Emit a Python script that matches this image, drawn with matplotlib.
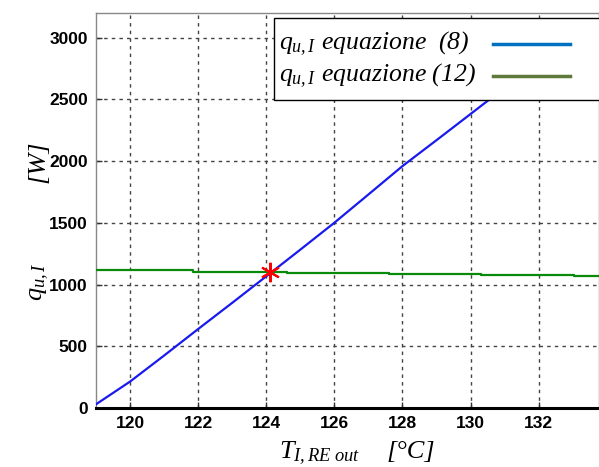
import matplotlib
matplotlib.use("Agg")
import matplotlib.pyplot as plt
from matplotlib.patches import Rectangle
from matplotlib.lines import Line2D

plt.rcParams["mathtext.fontset"] = "custom"
plt.rcParams["mathtext.it"] = "Liberation Serif:italic"
plt.rcParams["mathtext.rm"] = "Liberation Serif:italic"

# q_u,I from equation (8): rises with the outlet temperature
temp_eq8 = [119.0, 120.0, 121.0, 122.0, 123.0, 124.0, 125.0, 126.0, 127.0,
            128.0, 129.0, 130.0, 131.0, 132.0, 133.0]
q_eq8 = [30, 214, 425, 640, 852, 1067, 1283, 1501, 1730,
         1960, 2170, 2382, 2595, 2808, 3020]

# q_u,I from equation (12): nearly flat, stepping down slowly
temp_eq12 = [119.0, 121.85, 124.6, 127.6, 130.3, 133.05, 133.8]
q_eq12 = [1120, 1105, 1095, 1088, 1078, 1068, 1068]

# operating point where the two curves meet
t_cross = 124.12
q_cross = 1098

x_ticks = [120, 122, 124, 126, 128, 130, 132]
y_ticks = [0, 500, 1000, 1500, 2000, 2500, 3000]

legend_labels = [r"$q_{u,I}$ equazione  (8)", r"$q_{u,I}$ equazione (12)"]
legend_colors = ["#0070c0", "#5e7a3a"]

W, H = 599, 467
fig = plt.figure(figsize=(W / 100, H / 100), dpi=100)
ax = fig.add_axes([96 / W, 59 / H, 503 / W, 395 / H])

ax.plot(temp_eq8, q_eq8, color="#1a1aee", lw=1.6, zorder=3)
ax.plot(temp_eq12, q_eq12, color="#0a8a0a", lw=1.6, drawstyle="steps-post", zorder=3)
ax.plot([t_cross], [q_cross], marker=(6, 2, 0), color="red", ms=14, mew=1.5,
        linestyle="none", zorder=4)

ax.set_xlim(119.0, 133.77)
ax.set_ylim(0, 3200)
ax.set_xticks(x_ticks)
ax.set_yticks(y_ticks)
ax.grid(True, color="#444444", linestyle=(0, (2.5, 3)), lw=1.0)
ax.tick_params(direction="in", length=4, width=1, color="#333333", pad=6)
for lab in ax.get_xticklabels() + ax.get_yticklabels():
    lab.set_fontfamily("Liberation Sans")
    lab.set_fontweight("bold")
    lab.set_fontsize(12.5)

for side in ("top", "left", "right"):
    ax.spines[side].set_color("#888888")
    ax.spines[side].set_linewidth(1.0)
ax.spines["bottom"].set_color("black")
ax.spines["bottom"].set_linewidth(2.2)

# legend box runs off the right edge of the figure, so it is drawn by hand
fig.patches.append(Rectangle((274 / W, 1 - 100 / H), 340 / W, 82 / H,
                             transform=fig.transFigure, facecolor="white",
                             edgecolor="black", lw=1.0, zorder=5))
for i, (label, color) in enumerate(zip(legend_labels, legend_colors)):
    y = 1 - (44 + 32 * i) / H
    fig.text(279 / W, y, label, ha="left", va="center", fontsize=18.5,
             family="Liberation Serif", style="italic", zorder=6)
    fig.lines.append(Line2D([493 / W, 570 / W], [y, y], transform=fig.transFigure,
                            color=color, lw=2.5, zorder=6))

# axis titles drawn as separate pieces
fig.text(320 / W, 1 - 453 / H, r"$T_{I,RE\ out}$", ha="center", va="center",
         fontsize=19, family="Liberation Serif", style="italic")
fig.text(411 / W, 1 - 452 / H, "[°C]", ha="center", va="center",
         fontsize=19, family="Liberation Serif", style="italic")
fig.text(38 / W, 1 - 282 / H, r"$q_{u,I}$", ha="center", va="center",
         rotation=90, fontsize=19)
fig.text(38 / W, 1 - 162 / H, "[W]", ha="center", va="center", rotation=90,
         fontsize=19, family="Liberation Serif", style="italic")

fig.savefig("out.png", dpi=100)
